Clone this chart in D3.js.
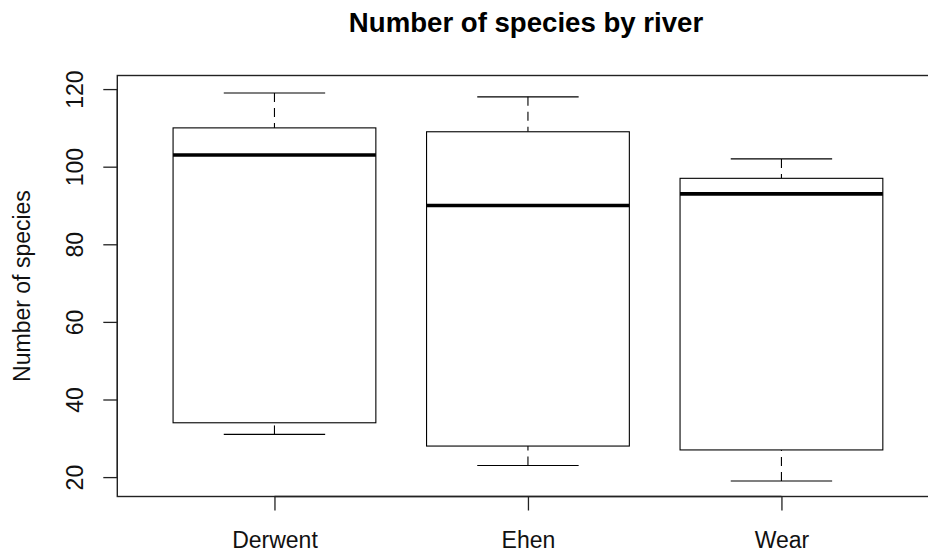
<!DOCTYPE html>
<html>
<head>
<meta charset="utf-8">
<script src="https://cdn.jsdelivr.net/npm/d3@7"></script>
<style>
  html, body { margin: 0; padding: 0; background: #fff; }
  svg { display: block; font-family: "Liberation Sans", Arial, Helvetica, sans-serif; }
</style>
</head>
<body>
<svg id="chart" width="928" height="553"></svg>
<script>
// Five-number summaries per river
const rivers = ["Derwent", "Ehen", "Wear"];
const lowerWhisker = [31, 23, 19];
const lowerQuartile = [34, 28, 27];
const medians = [103, 90, 93];
const upperQuartile = [110, 109, 97];
const upperWhisker = [119, 118, 102];
const yTicks = [20, 40, 60, 80, 100, 120];

const svg = d3.select("#chart");

// Plot region (extends slightly past the right edge of the canvas)
const x = d3.scaleLinear().domain([0.38, 3.62]).range([117.3, 938.6]);
const y = d3.scaleLinear().domain([15, 123.5]).range([496.5, 75.5]);

const boxHalf = 0.4;   // box width 0.8 in category units
const capHalf = 0.2;   // staples half the box width

// Frame around the plotting region
svg.append("rect")
  .attr("x", x(0.38)).attr("y", y(123.5))
  .attr("width", x(3.62) - x(0.38)).attr("height", y(15) - y(123.5))
  .attr("fill", "none").attr("stroke", "#222").attr("stroke-width", 1.4);

const data = rivers.map((r, i) => ({
  river: r, pos: i + 1,
  lo: lowerWhisker[i], q1: lowerQuartile[i], med: medians[i],
  q3: upperQuartile[i], hi: upperWhisker[i]
}));

const g = svg.append("g").selectAll("g").data(data).join("g");

// Whiskers, drawn from the whisker end toward the box
g.append("line")
  .attr("x1", d => x(d.pos)).attr("x2", d => x(d.pos))
  .attr("y1", d => y(d.hi)).attr("y2", d => y(d.q3))
  .attr("stroke", "#000").attr("stroke-width", 1.1).attr("stroke-dasharray", "9,6");
g.append("line")
  .attr("x1", d => x(d.pos)).attr("x2", d => x(d.pos))
  .attr("y1", d => y(d.lo)).attr("y2", d => y(d.q1))
  .attr("stroke", "#000").attr("stroke-width", 1.1).attr("stroke-dasharray", "9,6");

// Staples
g.append("line")
  .attr("x1", d => x(d.pos - capHalf)).attr("x2", d => x(d.pos + capHalf))
  .attr("y1", d => y(d.hi)).attr("y2", d => y(d.hi))
  .attr("stroke", "#000").attr("stroke-width", 1.1);
g.append("line")
  .attr("x1", d => x(d.pos - capHalf)).attr("x2", d => x(d.pos + capHalf))
  .attr("y1", d => y(d.lo)).attr("y2", d => y(d.lo))
  .attr("stroke", "#000").attr("stroke-width", 1.1);

// Boxes
g.append("rect")
  .attr("x", d => x(d.pos - boxHalf)).attr("y", d => y(d.q3))
  .attr("width", d => x(d.pos + boxHalf) - x(d.pos - boxHalf))
  .attr("height", d => y(d.q1) - y(d.q3))
  .attr("fill", "#fff").attr("stroke", "#000").attr("stroke-width", 1.1);

// Medians
g.append("line")
  .attr("x1", d => x(d.pos - boxHalf)).attr("x2", d => x(d.pos + boxHalf))
  .attr("y1", d => y(d.med)).attr("y2", d => y(d.med))
  .attr("stroke", "#000").attr("stroke-width", 3.6);

// Left axis
const yAxis = d3.axisLeft(y).tickValues(yTicks).tickSize(14).tickPadding(0).tickFormat(d3.format("d"));
const ya = svg.append("g").attr("transform", `translate(${x(0.38)},0)`).call(yAxis);
ya.select(".domain").attr("d", `M0,${y(20)}V${y(120)}`).attr("stroke", "#222").attr("stroke-width", 1.3);
ya.selectAll(".tick line").attr("stroke", "#222").attr("stroke-width", 1.3);
ya.selectAll(".tick text")
  .attr("x", null).attr("dy", null)
  .attr("transform", "translate(-34,0) rotate(-90)")
  .attr("text-anchor", "middle")
  .attr("font-size", 23).attr("fill", "#111")
  .attr("font-family", "Liberation Sans, Arial, sans-serif");

// Bottom axis
const xAxis = d3.axisBottom(x).tickValues(data.map(d => d.pos)).tickSize(14).tickPadding(0)
  .tickFormat((d, i) => rivers[i]);
const xa = svg.append("g").attr("transform", `translate(0,${y(15)})`).call(xAxis);
xa.select(".domain").attr("d", `M${x(1)},0H${x(3)}`).attr("stroke", "#222").attr("stroke-width", 1.3);
xa.selectAll(".tick line").attr("stroke", "#222").attr("stroke-width", 1.3);
xa.selectAll(".tick text")
  .attr("y", 51.5).attr("dy", null)
  .attr("font-size", 23).attr("fill", "#111")
  .attr("font-family", "Liberation Sans, Arial, sans-serif");

// Y axis title
svg.append("text")
  .attr("transform", `translate(30,${(y(15) + y(123.5)) / 2}) rotate(-90)`)
  .attr("text-anchor", "middle")
  .attr("font-size", 23).attr("fill", "#111")
  .text("Number of species");

// Chart title
svg.append("text")
  .attr("x", 526).attr("y", 32)
  .attr("text-anchor", "middle")
  .attr("font-size", 27.6).attr("font-weight", "bold").attr("fill", "#000")
  .text("Number of species by river");
</script>
</body>
</html>
